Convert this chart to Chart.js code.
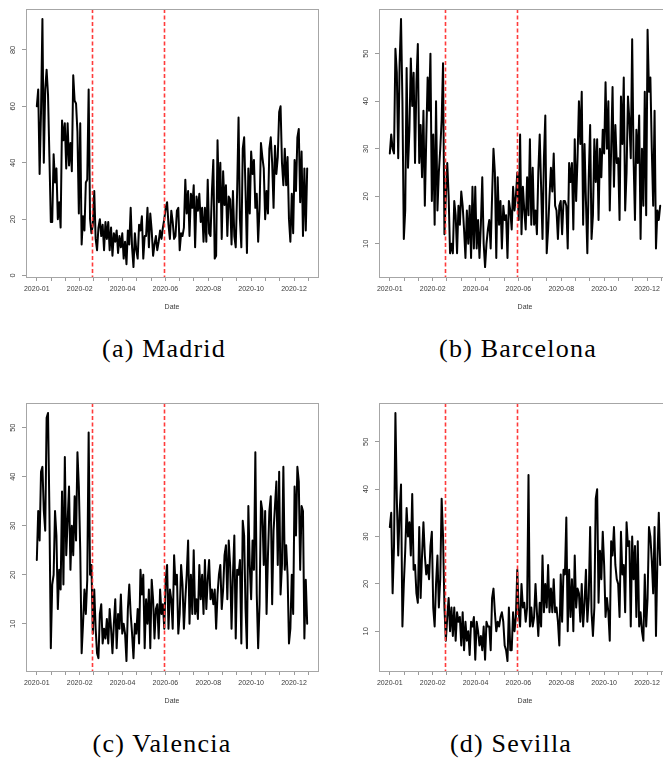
<!DOCTYPE html>
<html>
<head>
<meta charset="utf-8">
<script src="https://cdn.jsdelivr.net/npm/chart.js@4.4.1/dist/chart.umd.min.js"></script>
<style>
  html, body { margin: 0; padding: 0; background: #fff; }
  #fig { position: relative; width: 663px; height: 763px; overflow: hidden; }
  #fig canvas { position: absolute; }
  .cap {
    position: absolute;
    font-family: 'Liberation Serif', 'Times New Roman', serif;
    font-size: 26px;
    line-height: 30px;
    letter-spacing: 1.2px;
    white-space: nowrap;
    color: #000;
    transform: translateX(-50%);
  }
</style>
</head>
<body>
<div id="fig">
  <canvas id="madrid" width="340" height="325" style="left:0px;top:0px"></canvas>
  <canvas id="barcelona" width="340" height="325" style="left:353px;top:0px"></canvas>
  <canvas id="valencia" width="340" height="325" style="left:0px;top:394px"></canvas>
  <canvas id="sevilla" width="340" height="325" style="left:353px;top:394px"></canvas>
  <div class="cap" style="left:164px;top:334px">(a) Madrid</div>
  <div class="cap" style="left:518px;top:334px">(b) Barcelona</div>
  <div class="cap" style="left:162px;top:729px">(c) Valencia</div>
  <div class="cap" style="left:511px;top:729px">(d) Sevilla</div>
</div>
<script>
// daily series, sampled every other day
const madrid = [
  60, 66, 36, 58, 91, 40, 66, 73, 64, 42,
  19, 19, 43, 33, 38, 20, 26, 17, 55, 48,
  54, 38, 54, 39, 47, 37, 71, 62, 61, 51,
  22, 54, 11, 21, 16, 33, 34, 66, 20, 15,
  18, 30, 13, 9, 17, 20, 14, 18, 9, 19,
  13, 19, 9, 17, 7, 15, 12, 16, 8, 14,
  10, 15, 6, 12, 4, 16, 11, 24, 10, 3,
  15, 9, 6, 18, 16, 21, 6, 14, 14, 24,
  10, 22, 16, 7, 11, 14, 9, 12, 16, 13,
  17, 20, 24, 26, 18, 13, 23, 19, 13, 14,
  23, 24, 9, 15, 14, 17, 34, 22, 30, 14,
  29, 24, 32, 10, 28, 23, 29, 19, 24, 12,
  24, 12, 34, 15, 14, 30, 41, 6, 7, 48,
  26, 40, 13, 37, 25, 32, 14, 28, 27, 11,
  30, 14, 10, 30, 56, 20, 10, 45, 49, 30,
  8, 38, 22, 44, 36, 41, 24, 29, 12, 24,
  47, 42, 38, 20, 30, 22, 45, 49, 40, 24,
  46, 36, 42, 58, 60, 40, 32, 45, 32, 42,
  20, 12, 29, 15, 41, 30, 49, 52, 26, 44,
  14, 38, 16, 38
];
const barcelona = [
  29, 33, 30, 29, 51, 46, 28, 48, 57.3, 40,
  11, 17, 47, 26, 34, 49, 39, 46, 27, 44,
  52, 27, 35, 24, 38, 18, 32, 45, 38, 50,
  19, 33, 14, 40, 17, 25, 30, 36, 48, 12,
  20, 27, 20, 8, 10, 8, 19, 16, 8, 18,
  14, 21, 18, 13, 7, 17, 10, 18, 7, 22,
  9, 22, 9, 15, 7, 14, 24, 10, 5.1, 10,
  13, 15, 9, 20, 30, 25, 7, 24, 14, 19,
  9, 18, 15, 16, 7, 19, 17, 13, 22, 17,
  20, 25, 15, 33, 12, 22, 17, 13, 24, 16,
  32, 14, 26, 14, 17, 12, 25, 33, 22, 11,
  28, 37, 8, 13, 20, 26, 21, 29, 18, 17,
  11, 18, 19, 12, 19, 19, 18, 9, 27, 23,
  27, 13, 32, 19, 28, 40, 31, 42, 14, 31,
  19, 8, 24, 35, 11, 16, 32, 23, 32, 15,
  30, 24, 34, 29, 44, 30, 40, 17, 30, 43,
  22, 35, 27, 28, 15, 41, 31, 45, 17, 25,
  41, 36, 28, 53, 28, 15, 34, 27, 37, 11,
  30, 18, 42, 16, 55, 42, 45, 30, 18, 38,
  9, 17, 15, 18
];
const valencia = [
  23, 33, 27, 41, 42, 33, 29, 52, 53, 33,
  5, 18, 20, 33, 28, 13, 21, 17, 37, 18,
  44, 24, 31, 38, 21, 30, 24, 36, 27, 45,
  38, 25, 4, 10, 17, 12, 19, 49, 20, 22,
  8, 17, 9, 4, 3, 12, 14, 6, 9, 7,
  11, 6, 13, 9, 4, 10, 15, 5, 12, 9,
  16, 8, 10, 8, 2.4, 13, 18, 12, 8, 3,
  10, 8, 13, 6, 21, 16, 20, 5, 15, 10,
  17, 5, 19, 15, 7, 13, 14, 7, 17, 12,
  14, 9, 19, 22, 9, 17, 15, 9, 24, 18,
  20, 8, 12, 22, 18, 9, 15, 20, 27, 10,
  20, 12, 25, 12, 15, 11, 22, 15, 20, 12,
  23, 13, 19, 23, 15, 17, 14, 17, 9, 16,
  20, 22, 13, 17, 24, 26, 15, 27, 22, 9,
  20, 28, 7, 21, 20, 23, 6, 31, 28, 13,
  5, 34, 22, 15, 27, 21, 45, 16, 5, 14,
  35, 33, 22, 33, 12, 24, 33, 36, 14, 29,
  34, 39, 22, 41, 16, 22, 42, 21, 26, 20,
  6, 9, 20, 12, 38, 28, 42, 39, 21, 34,
  33, 7, 19, 10
];
const sevilla = [
  32, 35, 18, 28, 56.1, 38, 26, 35, 41, 11,
  20, 27, 36, 30, 33, 26, 39, 23, 24, 18,
  16, 32, 17, 26, 33, 26, 22, 24, 21, 28,
  31, 15, 11, 20, 26, 15, 21, 38, 30, 15,
  8, 13, 17, 10, 15, 9, 15, 8, 14, 12,
  13, 7, 14, 6, 12, 8, 10, 5, 12, 11,
  13, 4, 12, 10, 7, 9, 6, 11, 4, 12,
  11, 11, 6, 17, 19, 14, 10, 12, 11, 13,
  14, 12, 7, 6, 3.7, 15, 6, 6, 14, 10,
  13, 23, 14, 11, 20, 15, 16, 12, 15, 43,
  11, 15, 11, 13, 20, 14, 9, 16, 11, 26,
  14, 20, 15, 24, 14, 19, 14, 21, 14, 15,
  12, 7, 22, 12, 23, 22, 34, 10, 23, 13,
  21, 10, 26, 15, 19, 18, 12, 20, 11, 16,
  23, 12, 17, 32, 14, 9, 15, 38, 40, 16,
  27, 21, 31, 24, 13, 17, 14, 8, 29, 26,
  32, 24, 21, 20, 13, 31, 22, 24, 14, 33,
  28, 29, 11, 30, 21, 28, 13, 29, 11, 14,
  10, 8, 22, 11, 17, 32, 30, 25, 18, 32,
  9, 25, 35, 24
];

// date axis: a tick every 10.2 samples, a label on every third one
const xTickLabels = [
  '2020-01', '', '', '2020-02', '', '', '2020-04', '', '', '2020-06', '', '',
  '2020-08', '', '', '2020-10', '', '', '2020-12', ''
];
const yTicksMadrid = [0, 20, 40, 60, 80];
const yTicksOther = [10, 20, 30, 40, 50];
// the two breakpoints (sample index)
const breakPoints = [39.3, 90.7];

const TICK_STEP = 10.2;
const axisFont = { family: "'Liberation Sans', Arial, sans-serif", size: 7 };
const textGrey = '#3a3a3a';

// box round the plot region plus the red dashed breakpoint lines
const framePlugin = {
  id: 'frame',
  afterDatasetsDraw(chart) {
    const ctx = chart.ctx;
    const area = chart.chartArea;
    const x = chart.scales.x;
    ctx.save();
    ctx.strokeStyle = '#ff3b3b';
    ctx.lineWidth = 1.6;
    ctx.setLineDash([4, 2.5]);
    breakPoints.forEach(function(b) {
      const px = Math.round(x.getPixelForValue(b)) + 0.5;
      ctx.beginPath();
      ctx.moveTo(px, area.top);
      ctx.lineTo(px, area.bottom);
      ctx.stroke();
    });
    ctx.setLineDash([]);
    ctx.strokeStyle = '#a6a6a6';
    ctx.lineWidth = 1;
    ctx.strokeRect(Math.round(area.left) + 0.5, Math.round(area.top) + 0.5,
      Math.round(area.right - area.left), Math.round(area.bottom - area.top));
    ctx.restore();
  }
};

function drawPanel(id, values, yTicks) {
  // R-style axis limits: data range stretched by 4% on each side
  const lo = Math.min.apply(null, values);
  const hi = Math.max.apply(null, values);
  const padY = (hi - lo) * 0.04;
  const last = values.length - 1;

  new Chart(document.getElementById(id), {
    type: 'line',
    data: {
      datasets: [{
        data: values.map(function(v, i) { return { x: i, y: v }; }),
        borderColor: '#000',
        borderWidth: 2,
        borderJoinStyle: 'round',
        borderCapStyle: 'round',
        pointRadius: 0,
        tension: 0,
        fill: false
      }]
    },
    options: {
      responsive: false,
      animation: false,
      events: [],
      layout: { padding: { left: 0, top: 9, right: 22, bottom: 8 } },
      plugins: { legend: { display: false }, tooltip: { enabled: false } },
      scales: {
        x: {
          type: 'linear',
          min: -0.04 * last,
          max: 1.04 * last,
          afterBuildTicks: function(s) {
            s.ticks = xTickLabels.map(function(_, k) { return { value: k * TICK_STEP }; });
          },
          afterFit: function(s) { s.height = 40; },
          ticks: {
            autoSkip: false,
            maxRotation: 0,
            padding: 4,
            font: axisFont,
            color: textGrey,
            callback: function(v, i) { return xTickLabels[i]; }
          },
          grid: { drawOnChartArea: false, drawTicks: true, tickLength: 4, color: '#9a9a9a' },
          border: { display: false },
          title: {
            display: true,
            text: 'Date',
            font: axisFont,
            color: textGrey,
            padding: { top: 0, bottom: 6 }
          }
        },
        y: {
          min: lo - padY,
          max: hi + padY,
          afterBuildTicks: function(s) {
            s.ticks = yTicks.map(function(v) { return { value: v }; });
          },
          afterFit: function(s) { s.width = 26; },
          ticks: {
            minRotation: 90,
            maxRotation: 90,
            crossAlign: 'center',
            padding: 4.5,
            font: { family: axisFont.family, size: 7.5 },
            color: textGrey
          },
          grid: { drawOnChartArea: false, drawTicks: true, tickLength: 4, color: '#9a9a9a' },
          border: { display: false }
        }
      }
    },
    plugins: [framePlugin]
  });
}

drawPanel('madrid', madrid, yTicksMadrid);
drawPanel('barcelona', barcelona, yTicksOther);
drawPanel('valencia', valencia, yTicksOther);
drawPanel('sevilla', sevilla, yTicksOther);
</script>
</body>
</html>
